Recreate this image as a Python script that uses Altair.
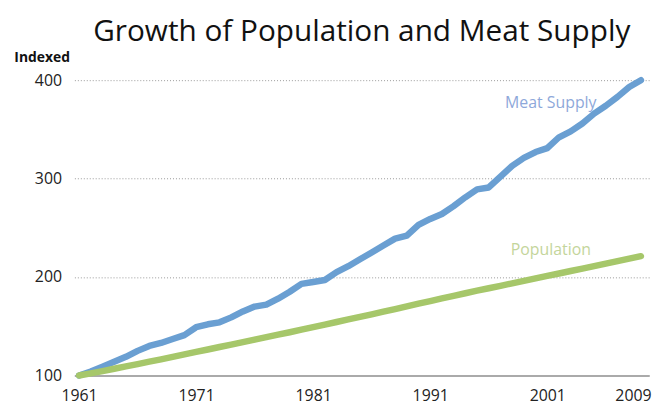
import altair as alt
import pandas as pd

years = list(range(1961, 2010))
meat_supply = [100, 104, 109, 114, 119, 125, 130, 133, 137, 141,
               149, 152, 154, 159, 165, 170, 172, 178, 185, 193,
               195, 197, 205, 211, 218, 225, 232, 239, 242, 253,
               259, 264, 272, 281, 289, 291, 302, 313, 321, 327,
               331, 342, 348, 356, 366, 374, 383, 393, 400]
population = [100.0, 102.1, 104.4, 106.8, 109.2, 111.6, 114.0, 116.4, 118.9, 121.4,
              123.9, 126.4, 128.9, 131.4, 133.9, 136.4, 138.9, 141.4, 143.9, 146.5,
              149.1, 151.7, 154.3, 156.9, 159.5, 162.1, 164.8, 167.5, 170.2, 172.9,
              175.6, 178.3, 180.9, 183.5, 186.1, 188.6, 191.1, 193.6, 196.1, 198.6,
              201.1, 203.6, 206.1, 208.6, 211.1, 213.6, 216.1, 218.6, 221.2]
series_names = ["Meat Supply", "Population"]
series_colors = ["#6a9fd2", "#a6c76a"]
label_colors = ["#8ea8da", "#c4d59b"]
label_years = [2001.3, 2001.3]
label_values = [377, 227]
x_ticks = [1961, 1971, 1981, 1991, 2001, 2009]
y_ticks = [100, 200, 300, 400]

df = pd.DataFrame({
    "year": years * 2,
    "value": meat_supply + population,
    "series": [series_names[0]] * len(years) + [series_names[1]] * len(years),
})
labels = pd.DataFrame({"year": label_years, "value": label_values,
                       "series": series_names})

xs = alt.Scale(domain=[1960.6, 2009.7], nice=False, zero=False)
ys = alt.Scale(domain=[100, 400], nice=False, zero=False)

lines = alt.Chart(df).mark_line(strokeWidth=6.5, strokeCap="round", strokeJoin="round").encode(
    x=alt.X("year:Q", scale=xs,
            axis=alt.Axis(values=x_ticks, format="d", title=None, ticks=False,
                          grid=False, domainColor="#aaaaaa", domainWidth=2,
                          labelFontSize=16, labelColor="#222222", labelFont="Open Sans",
                          labelPadding=12,
                          labelOffset=alt.expr("datum.value == 2009 ? -8 : 0"))),
    y=alt.Y("value:Q", scale=ys,
            axis=alt.Axis(values=y_ticks, title="Indexed", titleAngle=0,
                          titleX=-33, titleY=-16, titleAlign="center",
                          titleFontSize=14, titleFontWeight="bold",
                          titleFont="Open Sans", titleColor="#111111",
                          ticks=False, domain=False, grid=True,
                          gridDash=[1, 2], gridColor="#999999", gridWidth=1,
                          labelFontSize=16, labelColor="#222222", labelFont="Open Sans",
                          labelPadding=13)),
    color=alt.Color("series:N", scale=alt.Scale(domain=series_names, range=series_colors),
                    legend=None),
)

text = alt.Chart(labels).mark_text(fontSize=16, font="Open Sans").encode(
    x=alt.X("year:Q", scale=xs),
    y=alt.Y("value:Q", scale=ys),
    text="series:N",
    color=alt.Color("series:N", scale=alt.Scale(domain=series_names, range=label_colors),
                    legend=None),
)

chart = alt.layer(lines, text).resolve_scale(color="independent").properties(
    width=580, height=298,
    autosize=alt.AutoSizeParams(type="none"),
    padding={"left": 67, "top": 71, "right": 13, "bottom": 30},
    title=alt.TitleParams("Growth of Population and Meat Supply", fontSize=30,
                          font="Open Sans", fontWeight="normal", color="#111111",
                          anchor="middle", offset=4),
).configure_view(stroke=None)

chart.save("out.html", embed_options={"renderer": "svg", "actions": False})
